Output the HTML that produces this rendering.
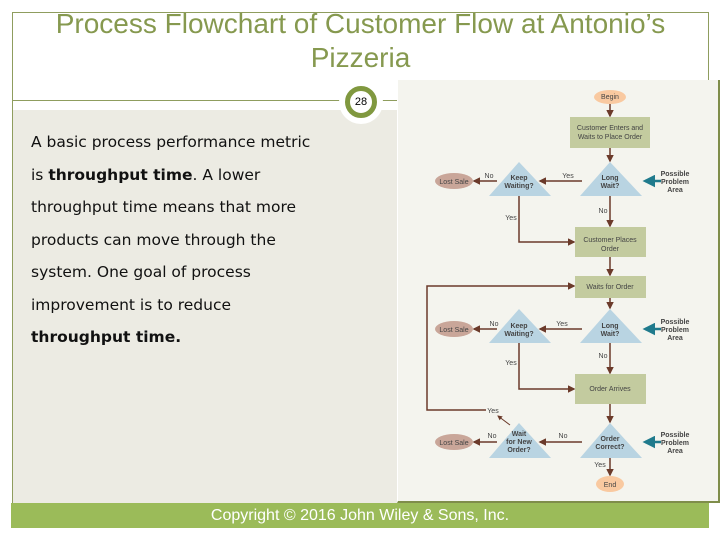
<!DOCTYPE html>
<html><head><meta charset="utf-8"><style>
body{margin:0;width:720px;height:540px;background:#fff;position:relative;overflow:hidden;font-family:"Liberation Sans",sans-serif}
.frame{position:absolute;left:12px;top:12px;width:697px;height:491px;border:1px solid #8f9d5e;box-sizing:border-box}
.content{position:absolute;left:13px;top:110px;width:384px;height:393px;background:#ecebe3}
.title{position:absolute;left:12px;width:697px;top:7px;text-align:center;color:#86994f;font-size:28px;line-height:34px}
.hline{position:absolute;left:13px;top:100px;width:384px;height:1px;background:#8f9d5e}
.circ{position:absolute;left:339px;top:80px;width:44px;height:44px;border-radius:50%;background:#fff}
.circ div{position:absolute;left:6px;top:6px;width:22px;height:22px;border:5px solid #80983f;border-radius:50%;background:#fff;font-size:11px;line-height:22px;text-align:center;color:#000}
.txt{position:absolute;left:31px;top:126px;font-family:"DejaVu Sans",sans-serif;font-size:15.5px;line-height:32.5px;color:#111}
.panel{position:absolute;left:397px;top:80px;width:323px;height:423px;background:#f4f4ee;border-left:1px solid #fff;border-bottom:2px solid #7f8d4a;border-right:2px solid #7f8d4a;box-sizing:border-box}
.foot{position:absolute;left:11px;top:503px;width:698px;height:25px;background:#9bbb59;color:#fff;text-align:center;font-size:16px;line-height:26px}
svg{position:absolute;left:0;top:0}
svg text{font-family:"Liberation Sans",sans-serif;font-size:7px;fill:#444;text-anchor:middle}
</style></head><body>
<div class="frame"></div>
<div class="content"></div>
<div class="title">Process Flowchart of Customer Flow at Antonio’s<br>Pizzeria</div>
<div class="hline"></div>
<div class="panel"></div>
<div class="circ"><div>28</div></div>
<div class="txt">A basic process performance metric<br>is <b>throughput time</b>. A lower<br>throughput time means that more<br>products can move through the<br>system. One goal of process<br>improvement is to reduce<br><b>throughput time.</b></div>
<svg width="720" height="540" viewBox="0 0 720 540">
<defs><marker id="a" markerWidth="5" markerHeight="5" refX="4" refY="2.5" orient="auto"><path d="M0,0L5,2.5L0,5z" fill="#6b3a2a"/></marker>
<marker id="t" markerWidth="5" markerHeight="5" refX="4" refY="2.5" orient="auto"><path d="M0,0L5,2.5L0,5z" fill="#1f7a8c"/></marker></defs>
<g stroke="#6b3a2a" stroke-width="1.5" fill="none" marker-end="url(#a)">
<path d="M610 104V116"/><path d="M610 148V161"/><path d="M582 181H540"/><path d="M497 181H474"/>
<path d="M610 196V226"/><path d="M519 196V242H574"/><path d="M610 257V275"/><path d="M610 298V308"/>
<path d="M582 329H540"/><path d="M497 329H474"/><path d="M610 343V373"/><path d="M519 343V389H574"/>
<path d="M610 404V422"/><path d="M582 442H540"/><path d="M497 442H474"/><path d="M610 458V475"/>
<path d="M486 410H427V286H574"/><path d="M510 425L498 416" stroke-width="1"/>
</g>
<g stroke="#1f7a8c" stroke-width="2.5" marker-end="url(#t)"><path d="M661 181H645"/><path d="M661 329H645"/><path d="M661 442H645"/></g>
<ellipse cx="610" cy="97" rx="16" ry="7" fill="#f9c9a0"/><text x="610" y="99">Begin</text>
<rect x="570" y="117" width="80" height="31" fill="#c3cb9f"/><text x="610" y="130">Customer Enters and</text><text x="610" y="139">Waits to Place Order</text>
<g fill="#b9d4e2"><path d="M610 162L642 196H580z"/><path d="M519 162L551 196H489z"/><path d="M610 309L642 343H580z"/><path d="M519 309L551 343H489z"/><path d="M610 423L642 458H580z"/><path d="M519 423L551 458H489z"/></g>
<g fill="#c9a699"><ellipse cx="454" cy="181" rx="19" ry="8"/><ellipse cx="454" cy="329" rx="19" ry="8"/><ellipse cx="454" cy="442" rx="19" ry="8"/></g>
<g fill="#c3cb9f"><rect x="575" y="227" width="71" height="30"/><rect x="575" y="276" width="71" height="22"/><rect x="575" y="374" width="71" height="30"/></g>
<ellipse cx="610" cy="484" rx="14" ry="8" fill="#f9c9a0"/><text x="610" y="487">End</text>
<text x="454" y="184">Lost Sale</text><text x="454" y="332">Lost Sale</text><text x="454" y="445">Lost Sale</text>
<g font-weight="bold"><text x="610" y="180">Long</text><text x="610" y="188">Wait?</text><text x="519" y="180">Keep</text><text x="519" y="188">Waiting?</text>
<text x="610" y="328">Long</text><text x="610" y="336">Wait?</text><text x="519" y="328">Keep</text><text x="519" y="336">Waiting?</text>
<text x="610" y="441">Order</text><text x="610" y="449">Correct?</text><text x="519" y="436">Wait</text><text x="519" y="444">for New</text><text x="519" y="452">Order?</text>
<text x="675" y="176">Possible</text><text x="675" y="184">Problem</text><text x="675" y="192">Area</text>
<text x="675" y="324">Possible</text><text x="675" y="332">Problem</text><text x="675" y="340">Area</text>
<text x="675" y="437">Possible</text><text x="675" y="445">Problem</text><text x="675" y="453">Area</text></g>
<text x="610" y="242">Customer Places</text><text x="610" y="251">Order</text><text x="610" y="289">Waits for Order</text><text x="610" y="391">Order Arrives</text>
<text x="489" y="178">No</text><text x="568" y="178">Yes</text><text x="603" y="213">No</text><text x="511" y="220">Yes</text>
<text x="494" y="326">No</text><text x="562" y="326">Yes</text><text x="603" y="358">No</text><text x="511" y="365">Yes</text>
<text x="492" y="438">No</text><text x="563" y="438">No</text><text x="493" y="413">Yes</text><text x="600" y="467">Yes</text>
</svg>
<div class="foot">Copyright © 2016 John Wiley &amp; Sons, Inc.</div>
</body></html>
